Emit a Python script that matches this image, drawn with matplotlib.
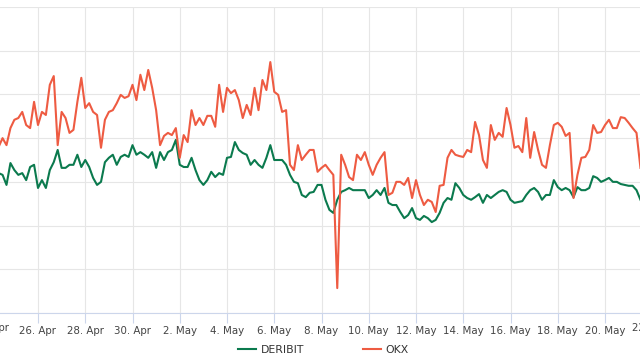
import matplotlib
matplotlib.use("Agg")
import matplotlib.pyplot as plt
import matplotlib.dates as mdates
from matplotlib.ticker import FixedLocator, FuncFormatter, MultipleLocator
from matplotlib.transforms import blended_transform_factory
import pandas as pd

# DATOS: VALORES CADA 4 HORAS (EJE Y SIN ETIQUETAS)
inicio = "2024-04-24 08:00"
paso = "4h"

deribit = [
    32.0, 31.6, 29.3, 34.3, 32.7, 31.6, 32.0, 30.4, 33.4, 33.9,
    28.6, 30.4, 28.6, 32.7, 34.5, 37.3, 33.2, 33.2, 33.9, 33.9,
    36.2, 33.4, 35.0, 33.4, 30.9, 29.3, 30.0, 34.5, 35.5, 36.2,
    33.9, 35.7, 36.2, 35.7, 38.4, 36.2, 36.8, 36.2, 35.5, 36.8,
    33.2, 36.8, 35.0, 36.8, 37.3, 39.6, 33.9, 33.4, 33.4, 35.5,
    32.7, 30.4, 29.3, 30.4, 32.3, 31.1, 32.0, 31.6, 35.5, 35.7,
    39.1, 37.3, 36.6, 36.2, 33.9, 35.0, 33.9, 33.2, 35.5, 38.4,
    35.0, 35.0, 35.0, 33.9, 31.6, 30.0, 29.7, 27.0, 26.5, 27.5,
    27.7, 29.3, 29.3, 25.9, 23.6, 22.9, 25.9, 27.7, 28.1, 28.6,
    28.1, 28.1, 28.1, 28.1, 26.3, 27.0, 28.1, 27.0, 28.6, 25.2,
    24.7, 24.7, 23.1, 21.7, 22.4, 24.0, 21.7, 21.3, 22.2, 21.7,
    20.8, 21.3, 22.9, 25.2, 26.3, 25.9, 29.7, 28.6, 27.0, 26.3,
    25.9, 26.5, 27.2, 25.2, 27.0, 26.3, 27.0, 27.7, 28.1, 27.7,
    25.9, 25.2, 25.4, 25.6, 27.0, 28.1, 28.6, 27.7, 25.9, 27.0,
    27.0, 30.4, 28.8, 28.1, 28.6, 28.1, 26.5, 28.8, 28.1, 28.1,
    28.6, 31.3, 30.9, 30.0, 30.4, 30.9, 30.0, 30.0, 29.5, 29.3,
    29.1, 29.1, 28.1, 25.9,
]

okx = [
    38.0, 40.0, 38.4, 42.3, 44.2, 44.6, 46.0, 43.0, 42.3, 48.3,
    43.0, 46.0, 45.3, 52.2, 54.2, 38.4, 46.0, 44.6, 41.2, 41.9,
    48.3, 53.8, 46.9, 48.0, 46.0, 45.3, 37.8, 44.2, 46.0, 46.4,
    48.0, 49.9, 49.2, 49.6, 52.2, 48.7, 54.5, 51.0, 55.6, 51.5,
    46.4, 38.4, 40.5, 41.2, 40.7, 42.3, 35.5, 40.7, 39.1, 46.4,
    43.0, 44.6, 43.0, 45.1, 45.1, 42.6, 52.2, 46.0, 51.5, 50.3,
    51.0, 48.7, 44.6, 47.6, 45.3, 51.5, 46.4, 53.3, 51.0, 57.4,
    50.6, 49.9, 46.0, 46.4, 33.9, 32.7, 38.4, 35.0, 36.2, 37.3,
    37.3, 32.3, 33.2, 33.9, 32.7, 31.6, 5.7, 36.2, 33.9, 31.1,
    30.4, 36.2, 35.0, 36.8, 33.9, 31.6, 33.9, 35.5, 36.8, 27.0,
    27.5, 30.0, 30.0, 29.3, 30.9, 26.3, 30.4, 27.0, 24.7, 25.9,
    25.4, 23.1, 29.1, 29.3, 35.5, 37.3, 36.2, 35.9, 35.7, 37.3,
    36.8, 43.7, 40.7, 35.0, 33.2, 43.0, 39.6, 41.2, 40.3, 46.9,
    43.0, 37.8, 38.2, 36.8, 44.6, 35.5, 41.4, 37.3, 33.9, 33.2,
    38.4, 43.0, 43.5, 42.6, 40.5, 41.2, 26.3, 31.6, 35.5, 35.7,
    37.3, 43.0, 41.2, 41.4, 43.0, 44.2, 42.3, 42.3, 44.8, 44.6,
    43.5, 42.3, 41.2, 33.2,
]

fechas = pd.date_range(inicio, periods=len(okx), freq=paso)
ticks = pd.date_range("2024-04-24", "2024-05-22", freq="2D")

COLOR_DERIBIT = "#0b7a4e"
COLOR_OKX = "#ee5b42"


def etiqueta_fecha(v, _=None):
    d = mdates.num2date(v)
    return f"{d.day}. {d.strftime('%b')}"


fig = plt.figure(figsize=(6.4, 3.6), dpi=100)
ax = fig.add_axes([0.0, 47 / 360, 1.0, 306 / 360])

ax.plot(fechas, deribit, color=COLOR_DERIBIT, linewidth=1.5, label="DERIBIT", zorder=3)
ax.plot(fechas, okx, color=COLOR_OKX, linewidth=1.5, label="OKX", zorder=4)

# RANGO VISIBLE (LA GRAFICA ORIGINAL ESTA RECORTADA EN LOS BORDES)
x_min = pd.Timestamp("2024-04-24 09:24")
x_max = pd.Timestamp("2024-05-21 11:32")
ax.set_xlim(x_min, x_max)
ax.set_ylim(0, 70)

ax.yaxis.set_major_locator(MultipleLocator(10))
ax.xaxis.set_major_locator(FixedLocator(mdates.date2num(ticks)))
ax.xaxis.set_major_formatter(FuncFormatter(etiqueta_fecha))

ax.grid(True, color="#e6e6e6", linewidth=0.8, zorder=0)
ax.set_axisbelow(True)
for lado in ["top", "right", "left"]:
    ax.spines[lado].set_visible(False)
ax.spines["bottom"].set_color("#ccd6eb")
ax.spines["bottom"].set_linewidth(0.8)

ax.tick_params(axis="y", left=False, labelleft=False)
ax.tick_params(axis="x", length=7, width=0.8, color="#ccd6eb",
               labelsize=7.4, labelcolor="#444444", pad=2)

# ETIQUETAS CORTADAS EN LOS BORDES (FUERA DEL RANGO VISIBLE)
trans = blended_transform_factory(ax.transData, ax.transAxes)
for t in ticks:
    if t < x_min or t > x_max:
        ax.text(mdates.date2num(t), -0.0314, etiqueta_fecha(mdates.date2num(t)),
                transform=trans, ha="center", va="top", fontsize=7.4,
                color="#444444", clip_on=False)

fig.legend(loc="center", bbox_to_anchor=(0.505, 0.028), ncol=2, frameon=False,
           fontsize=7.8, handlelength=1.7, handletextpad=0.4, columnspacing=5.4,
           labelcolor="#333333")

fig.savefig("out.png", dpi=100)
